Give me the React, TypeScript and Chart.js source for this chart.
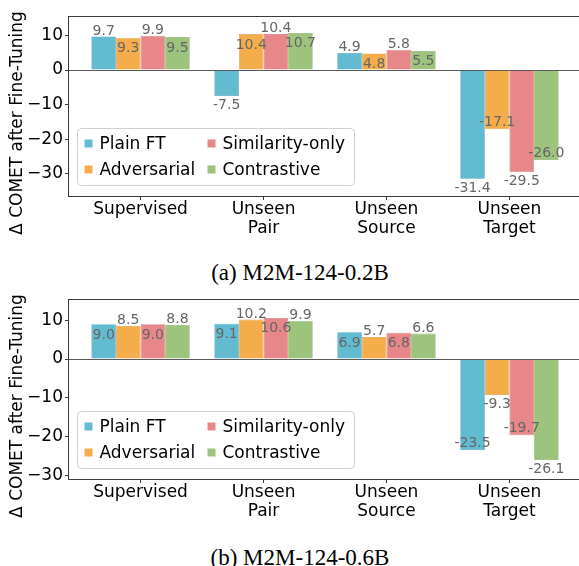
import React, { useEffect, useRef } from "react";
import { Chart, registerables } from "chart.js";

Chart.register(...registerables);

const categories: string[][] = [["Supervised"], ["Unseen", "Pair"], ["Unseen", "Source"], ["Unseen", "Target"]];
const seriesNames = ["Plain FT", "Adversarial", "Similarity-only", "Contrastive"];
const seriesColors = ["#62bbd0", "#f5ad4c", "#e8878a", "#9cc47d"];
const seriesEdges = ["#56a9bd", "#e39c3f", "#d77a7d", "#8bb46e"];

// (a) M2M-124-0.2B
const plainFtA = [9.7, -7.5, 4.9, -31.4];
const adversarialA = [9.3, 10.4, 4.8, -17.1];
const similarityA = [9.9, 10.4, 5.8, -29.5];
const contrastiveA = [9.5, 10.7, 5.5, -26.0];

// (b) M2M-124-0.6B
const plainFtB = [9.0, 9.1, 6.9, -23.5];
const adversarialB = [8.5, 10.2, 5.7, -9.3];
const similarityB = [9.0, 10.6, 6.8, -19.7];
const contrastiveB = [8.8, 9.9, 6.6, -26.1];

const yTicks = [10, 0, -10, -20, -30];
const yTitle = "\u0394 COMET after Fine-Tuning";
const captionA = "(a) M2M-124-0.2B";
const captionB = "(b) M2M-124-0.6B";

const FONT = "'DejaVu Sans', sans-serif";
const CW = 582;
const CH = 245;

function makePlugin(insideParity: number) {
  return {
    id: "custom" + insideParity,
    afterDatasetsDraw(chart: any) {
      const ctx = chart.ctx;
      const ca = chart.chartArea;
      const yScale = chart.scales.y;
      // zero line
      const y0 = Math.round(yScale.getPixelForValue(0)) + 0.5;
      ctx.save();
      ctx.strokeStyle = "#5a5a5a";
      ctx.lineWidth = 1;
      ctx.beginPath();
      ctx.moveTo(ca.left, y0);
      ctx.lineTo(ca.right, y0);
      ctx.stroke();
      // value labels
      ctx.font = `14px ${FONT}`;
      ctx.fillStyle = "#666666";
      ctx.textAlign = "center";
      ctx.textBaseline = "alphabetic";
      chart.data.datasets.forEach((ds: any, i: number) => {
        const meta = chart.getDatasetMeta(i);
        const inside = i % 2 === insideParity;
        meta.data.forEach((bar: any, j: number) => {
          const v = ds.data[j].y;
          const txt = v.toFixed(1);
          let y: number;
          if (v >= 0) {
            y = inside ? bar.y + 14.5 : bar.y - 1.8;
          } else {
            y = inside ? bar.y - 3 : bar.y + 13;
          }
          ctx.fillText(txt, bar.x, y);
        });
      });
      ctx.restore();
    },
    afterDraw(chart: any) {
      const ctx = chart.ctx;
      const ca = chart.chartArea;
      ctx.save();
      // frame
      ctx.strokeStyle = "#3a3a3a";
      ctx.lineWidth = 1;
      ctx.strokeRect(Math.round(ca.left) + 0.5, Math.round(ca.top) + 0.5, ca.right - ca.left, Math.round(ca.bottom - ca.top));
      // y title
      ctx.save();
      ctx.translate(18, 123);
      ctx.rotate(-Math.PI / 2);
      ctx.font = `17px ${FONT}`;
      ctx.fillStyle = "#000";
      ctx.textAlign = "center";
      ctx.textBaseline = "middle";
      ctx.fillText(yTitle, 0, 0);
      ctx.restore();
      // legend
      const bx = Math.round(ca.left) + 9 + 0.5;
      const by = Math.round(ca.bottom) - 68 + 0.5;
      const bw = 277;
      const bh = 57;
      ctx.beginPath();
      ctx.roundRect(bx, by, bw, bh, 4);
      ctx.fillStyle = "rgba(255,255,255,0.85)";
      ctx.fill();
      ctx.strokeStyle = "#d0d0d0";
      ctx.stroke();
      ctx.font = `17px ${FONT}`;
      ctx.textAlign = "left";
      ctx.textBaseline = "middle";
      const cols = [7, 130];
      const rows = [15, 41];
      seriesNames.forEach((name, k) => {
        const c = Math.floor(k / 2);
        const r = k % 2;
        const sx = bx + cols[c];
        const cy = by + rows[r];
        ctx.fillStyle = seriesColors[k];
        ctx.fillRect(sx, cy - 4, 8, 8);
        ctx.fillStyle = "#000";
        ctx.fillText(name, sx + 15, cy + 1);
      });
      ctx.restore();
    },
  };
}

function Panel(props: { series: number[][]; yMin: number; yMax: number; insideParity: number; top: number }) {
  const ref = useRef<HTMLCanvasElement | null>(null);
  useEffect(() => {
    if (!ref.current) return;
    const chart = new Chart(ref.current, {
      type: "bar",
      data: {
        datasets: props.series.map((vals, i) => ({
          label: seriesNames[i],
          data: vals.map((v, k) => ({ x: k, y: v })),
          backgroundColor: seriesColors[i],
          borderColor: seriesEdges[i],
          borderWidth: 0.7,
          categoryPercentage: 0.8,
          barPercentage: 1.0,
        })),
      } as any,
      options: {
        responsive: false,
        animation: false,
        devicePixelRatio: 1,
        layout: { padding: { top: 16, left: 0, right: 0, bottom: 0 } },
        plugins: { legend: { display: false }, tooltip: { enabled: false } },
        scales: {
          x: {
            type: "linear",
            min: -0.59,
            max: 3.59,
            offset: false,
            afterBuildTicks: (s: any) => {
              s.ticks = categories.map((_, k) => ({ value: k }));
            },
            afterFit: (s: any) => {
              s.height = 49;
              s.paddingLeft = 0;
              s.paddingRight = 0;
            },
            ticks: {
              callback: (v: any) => categories[Math.round(Number(v))],
              font: { family: FONT, size: 17, lineHeight: 1.12 },
              color: "#000",
              padding: 0,
              maxRotation: 0,
              autoSkip: false,
            },
            grid: { display: true, offset: false, drawOnChartArea: false, drawTicks: true, tickLength: 4, color: "#3a3a3a" },
            border: { display: false },
          },
          y: {
            min: props.yMin,
            max: props.yMax,
            afterBuildTicks: (s: any) => {
              s.ticks = yTicks.map((v) => ({ value: v }));
            },
            afterFit: (s: any) => {
              s.width = 68;
            },
            ticks: {
              callback: (v: any) => (Number(v) < 0 ? "\u2212" + Math.abs(Number(v)) : String(v)),
              font: { family: FONT, size: 17 },
              color: "#000",
              padding: 2,
            },
            grid: { display: true, drawOnChartArea: false, drawTicks: true, tickLength: 3, color: "#3a3a3a" },
            border: { display: false },
          },
        },
      } as any,
      plugins: [makePlugin(props.insideParity)],
    });
    return () => chart.destroy();
  }, []);
  return (
    <canvas
      ref={ref}
      width={CW}
      height={CH}
      style={{ position: "absolute", left: 0, top: props.top, width: CW, height: CH }}
    />
  );
}

const captionStyle = (top: number): React.CSSProperties => ({
  position: "absolute",
  left: 0,
  width: 600,
  top,
  textAlign: "center",
  fontFamily: "'Liberation Serif', 'Times New Roman', serif",
  fontSize: 23,
  lineHeight: "26px",
  color: "#000",
  whiteSpace: "nowrap",
});

export default function App() {
  return (
    <div style={{ position: "absolute", left: 0, top: 0, width: 579, height: 566, overflow: "hidden", background: "#fff" }}>
      <Panel series={[plainFtA, adversarialA, similarityA, contrastiveA]} yMin={-36.4} yMax={15.6} insideParity={1} top={0} />
      <div style={captionStyle(260)}>{captionA}</div>
      <Panel series={[plainFtB, adversarialB, similarityB, contrastiveB]} yMin={-31.0} yMax={15.5} insideParity={0} top={283} />
      <div style={captionStyle(545)}>{captionB}</div>
    </div>
  );
}
